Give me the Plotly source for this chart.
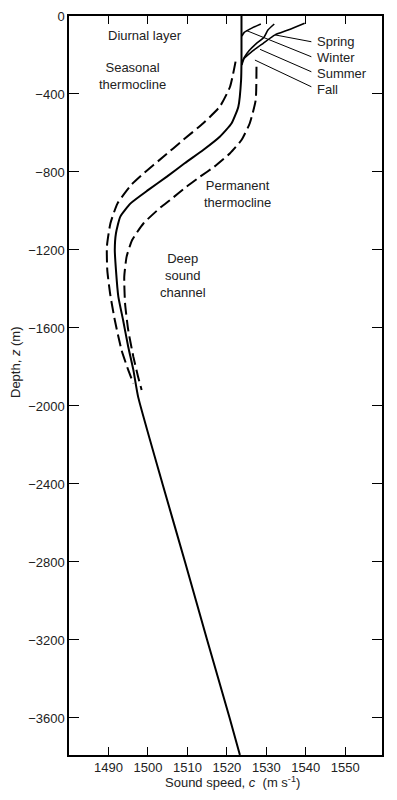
import plotly.graph_objects as go

FONT = "Liberation Sans, Arial, sans-serif"
TXT = "#222222"

# ---- main (solid) profile ----
main_speed = [1523.7, 1523.7, 1523.6, 1522.9, 1521.2, 1518.2, 1514.0, 1509.3, 1504.8,
              1500.1, 1495.6, 1493.0, 1491.9, 1491.6, 1491.9, 1492.5, 1493.7, 1495.0,
              1496.3, 1497.5, 1503.7, 1509.4, 1515.0, 1520.7, 1523.3]
main_depth = [0, -226, -328, -465, -550, -619, -687, -755, -824,
              -892, -961, -1029, -1114, -1200, -1303, -1439, -1559, -1696,
              -1815, -1952, -2400, -2800, -3200, -3600, -3790]

# ---- left dashed profile ----
left_speed = [1522.2, 1520.8, 1518.2, 1514.0, 1508.9, 1503.9, 1498.9, 1495.8, 1492.3,
              1490.5, 1489.6, 1489.7, 1490.4, 1491.6, 1493.3, 1495.0, 1496.3]
left_depth = [-234, -363, -465, -550, -636, -722, -807, -865, -961,
              -1063, -1183, -1303, -1422, -1559, -1713, -1815, -1884]

# ---- right dashed profile ----
right_speed = [1527.5, 1527.3, 1525.8, 1523.7, 1520.8, 1516.8, 1513.2, 1509.8, 1505.6,
               1503.3, 1498.9, 1496.0, 1494.6, 1494.0, 1494.2, 1495.0, 1496.3, 1497.5, 1498.4]
right_depth = [-260, -431, -550, -636, -704, -773, -824, -875, -944,
               -980, -1063, -1149, -1234, -1337, -1473, -1610, -1747, -1850, -1918]

# ---- near-surface seasonal profiles ----
surf_a_speed = [1539.7, 1535.5, 1532.2, 1529.2, 1526.3, 1524.4, 1523.8]
surf_a_depth = [-37, -72, -97, -140, -183, -217, -251]
surf_b_speed = [1532.0, 1530.4, 1529.4, 1527.3, 1525.6, 1524.4, 1523.8]
surf_b_depth = [-41, -72, -109, -144, -178, -212, -236]
surf_c_speed = [1528.6, 1526.3, 1524.4, 1523.8]
surf_c_depth = [-41, -62, -84, -103]

# ---- season labels and leader lines ----
season_labels = ["Spring", "Winter", "Summer", "Fall"]
label_speed = 1542.3
label_depth = [-132, -212, -297, -379]
leader_start_speed = 1541.4
leader_start_depth = [-132, -209, -286, -363]
leader_end_speed = [1532.2, 1525.0, 1528.4, 1527.1]
leader_end_depth = [-97, -75, -171, -226]

# ---- region annotations ----
region_text = ["Diurnal layer", "Seasonal<br>thermocline", "Permanent<br>thermocline",
               "Deep<br>sound<br>channel"]
region_speed = [1499.2, 1496.2, 1522.8, 1508.9]
region_depth = [-101, -310, -915, -1333]

xticks = [1490, 1500, 1510, 1520, 1530, 1540, 1550]
yticks = [0, -400, -800, -1200, -1600, -2000, -2400, -2800, -3200, -3600]
yticktext = ["0" if v == 0 else "\u2212" + str(-v) for v in yticks]

fig = go.Figure()

fig.add_trace(go.Scatter(x=main_speed, y=main_depth, mode="lines",
                         line=dict(color="black", width=2, shape="spline", smoothing=0.5)))
fig.add_trace(go.Scatter(x=left_speed, y=left_depth, mode="lines",
                         line=dict(color="black", width=2, dash="12px,5px",
                                   shape="spline", smoothing=0.5)))
fig.add_trace(go.Scatter(x=right_speed, y=right_depth, mode="lines",
                         line=dict(color="black", width=2, dash="12px,5px",
                                   shape="spline", smoothing=0.5)))
for sx, sy in [(surf_a_speed, surf_a_depth), (surf_b_speed, surf_b_depth),
               (surf_c_speed, surf_c_depth)]:
    fig.add_trace(go.Scatter(x=sx, y=sy, mode="lines",
                             line=dict(color="black", width=1.6, shape="spline", smoothing=0.6)))

for i in range(len(season_labels)):
    fig.add_trace(go.Scatter(x=[leader_start_speed, leader_end_speed[i]],
                             y=[leader_start_depth[i], leader_end_depth[i]],
                             mode="lines", line=dict(color="black", width=1)))
    fig.add_annotation(x=label_speed, y=label_depth[i], text=season_labels[i],
                       showarrow=False, xanchor="left", yanchor="middle",
                       font=dict(family=FONT, size=13, color=TXT))

for t, sx, sy in zip(region_text, region_speed, region_depth):
    fig.add_annotation(x=sx, y=sy, text=t, showarrow=False, xanchor="center",
                       yanchor="middle", align="center",
                       font=dict(family=FONT, size=13, color=TXT))

# axis titles (positions relative to the plot frame)
fig.add_annotation(xref="paper", yref="paper", x=(15 - 69) / 313, y=(755 - 362) / 739,
                   text="Depth, <i>z</i> (m)", textangle=-90, showarrow=False,
                   xanchor="center", yanchor="middle",
                   font=dict(family=FONT, size=13, color=TXT))
fig.add_annotation(xref="paper", yref="paper", x=(232 - 69) / 313, y=(755 - 782) / 739,
                   text="Sound speed, <i>c</i>  (m s<sup>-1</sup>)", showarrow=False,
                   xanchor="center", yanchor="middle",
                   font=dict(family=FONT, size=13, color=TXT))

# page body has an 8px default margin, so the figure is sized/offset to compensate
fig.update_layout(
    width=389, height=792,
    margin=dict(l=61, r=15, t=8, b=45, autoexpand=False),
    paper_bgcolor="white", plot_bgcolor="white",
    showlegend=False,
    font=dict(family=FONT, size=13, color=TXT),
    xaxis=dict(range=[1480, 1559.3], tickvals=xticks, ticks="inside", ticklen=8,
               tickwidth=1, tickcolor="black", showline=True, linecolor="black",
               linewidth=1.5, mirror="ticks", showgrid=False, zeroline=False,
               automargin=False,
               tickfont=dict(family=FONT, size=13, color=TXT)),
    yaxis=dict(range=[-3790, 0], tickvals=yticks, ticktext=yticktext, ticks="inside",
               ticklen=10, tickwidth=1, tickcolor="black", showline=True,
               linecolor="black", linewidth=1.5, mirror="ticks", showgrid=False,
               zeroline=False, automargin=False,
               tickfont=dict(family=FONT, size=13, color=TXT)),
)

fig.write_html("out.html")
